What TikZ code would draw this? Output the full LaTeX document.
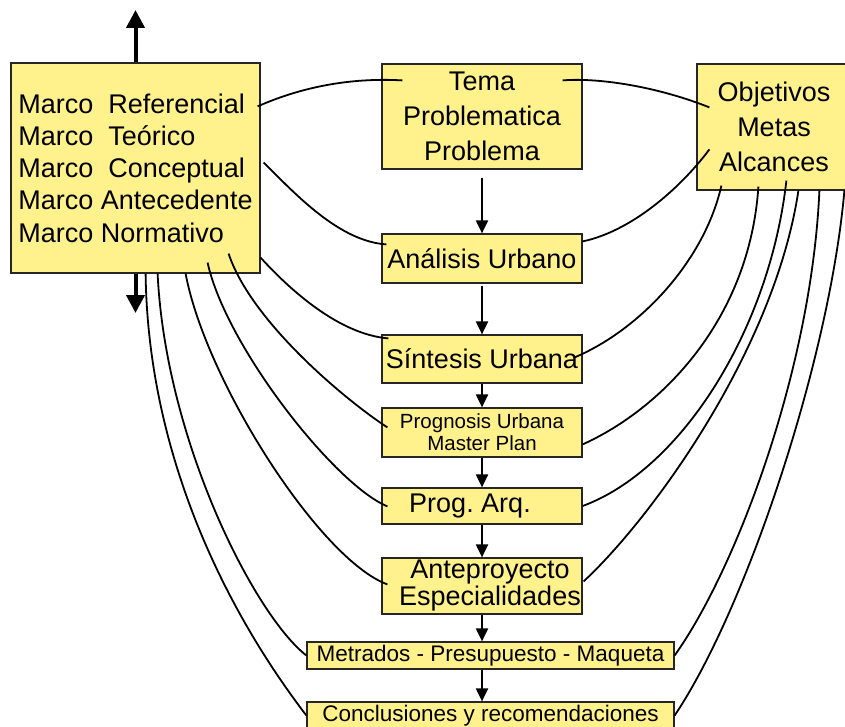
\documentclass[tikz,border=0pt]{standalone}
\usepackage{fontspec}
\setmainfont{Liberation Sans}
\usepackage{tikz}
\usetikzlibrary{arrows.meta, calc}
\definecolor{amarillo}{RGB}{255,242,140}

\begin{document}
\begin{tikzpicture}[x=1pt, y=-1pt,
    caja/.style={draw=black!85, line width=1.2pt, fill=amarillo, inner sep=0pt},
    grande/.style={font={\fontsize{27}{32.3}\selectfont}},
    flecha/.style={line width=2pt, -{Triangle[width=12pt,length=13pt]}},
    flechagrande/.style={line width=4pt, -{Triangle[width=18pt,length=18pt]}},
    enlace/.style={line width=1.8pt}]
        \useasboundingbox (0,0) rectangle (845,727);
        \clip (0,0) rectangle (845,727);
        % Boxes
        \node[caja, grande, minimum width=249pt, minimum height=210pt, align=left] (marco) at (135.5,168)
            {Marco~~Referencial\\Marco~~Teórico\\Marco~~Conceptual\\Marco Antecedente\\Marco Normativo};
        \node[caja, minimum width=200pt, minimum height=105pt, align=center, font={\fontsize{27}{35}\selectfont}] (tema) at (482,116.5)
            {Tema\\Problematica\\Problema};
        \node[caja, minimum width=150pt, minimum height=126pt, align=center, font={\fontsize{27}{35}\selectfont}] (objetivos) at (772,127)
            {\hspace*{4pt}Objetivos\\\hspace*{4pt}Metas\\\hspace*{4pt}Alcances};
        \node[caja, grande, minimum width=200pt, minimum height=49pt] (analisis) at (482,258.5) {Análisis Urbano};
        \node[caja, grande, minimum width=200pt, minimum height=48pt] (sintesis) at (482,359) {Síntesis Urbana};
        \node[caja, minimum width=200pt, minimum height=49pt, align=center, font={\fontsize{20.5}{22}\selectfont}] (prognosis) at (482,432.5)
            {Prognosis Urbana\\Master Plan};
        \node[caja, grande, minimum width=200pt, minimum height=36pt] (progarq) at (482,506) {Prog.\ Arq.\hspace*{24pt}};
        \node[caja, minimum width=200pt, minimum height=56pt, align=center, font={\fontsize{27}{27}\selectfont}] (antep) at (482,586)
            {\hspace*{16pt}Anteproyecto\\\hspace*{16pt}Especialidades};
        \node[caja, minimum width=367pt, minimum height=27pt, font={\fontsize{22.5}{27}\selectfont}] (metrados) at (490.5,655.5)
            {Metrados - Presupuesto - Maqueta};
        \node[caja, minimum width=367pt, minimum height=27pt, font={\fontsize{22.5}{27}\selectfont}] (conclu) at (490.5,715.5)
            {Conclusiones y recomendaciones};

        % Arrows out of the left box
        \coordinate (arriba) at (135.5,10);
        \coordinate (abajo) at (135.5,313);
        \draw[flechagrande] (marco.north) -- (arriba);
        \draw[flechagrande] (marco.south) -- (abajo);

        % Main sequence
        \draw[flecha, shorten <=8pt] (tema) -- (analisis);
        \draw[flecha, shorten <=2pt] (analisis) -- (sintesis);
        \draw[flecha] (sintesis) -- (prognosis);
        \draw[flecha] (prognosis) -- (progarq);
        \draw[flecha] (progarq) -- (antep);
        \draw[flecha] (antep.south) -- (antep.south |- metrados.north);
        \draw[flecha] (metrados.south -| antep) -- (conclu.north -| antep);

        % Links from the left box
        \draw[enlace] ($(marco.north east)+(-3,44)$) .. controls +(43,-19) and +(-53,-3) .. ($(tema.north west)+(21,17)$);
        \draw[enlace] ($(marco.north east)+(3,100)$) .. controls +(32,32) and +(-47,-3) .. ($(analisis.north west)+(5,11)$);
        \draw[enlace] ($(marco.south east)+(0,-16)$) .. controls +(30,33) and +(-49,-4) .. ($(sintesis.north west)+(7,4)$);
        \draw[enlace] ($(marco.south east)+(-32,-20)$) .. controls +(22,67) and +(-43,-28) .. ($(prognosis.north west)+(6,20)$);
        \draw[enlace] ($(marco.south east)+(-53,-11)$) .. controls +(18,83) and +(-53,-22) .. ($(progarq.north west)+(6,19)$);
        \draw[enlace] ($(marco.south east)+(-75,0)$) .. controls +(20,107) and +(-68,-25) .. ($(antep.north west)+(6,27)$);
        \draw[enlace] ($(marco.south east)+(-103,0)$) .. controls +(8,167) and +(-52,-40.5) .. (metrados.west);
        \draw[enlace] ($(marco.south east)+(-115,0)$) .. controls +(3,227) and +(-37,-48.5) .. (conclu.west);

        % Links from the right box
        \draw[enlace] ($(tema.north east)+(-20,17)$) .. controls +(38,-3) and +(-50,-20) .. ($(objetivos.north west)+(13,44)$);
        \draw[enlace] ($(objetivos.north west)+(13,86)$) .. controls +(-30,40) and +(48,-10) .. ($(analisis.north east)+(0,8)$);
        \draw[enlace] ($(objetivos.south west)+(25,-5)$) .. controls +(-17,75) and +(66,-28) .. ($(sintesis.north east)+(-8,23)$);
        \draw[enlace] ($(objetivos.south west)+(62,-4)$) .. controls +(-9,134) and +(78,-35) .. ($(prognosis.north east)+(0,37)$);
        \draw[enlace] ($(objetivos.south west)+(90,-10)$) .. controls +(-17,150) and +(98,-36) .. (progarq.east);
        \draw[enlace] ($(objetivos.south west)+(102,0)$) .. controls +(-24,160) and +(67,-62) .. ($(antep.north east)+(1,24)$);
        \draw[enlace] ($(objetivos.south west)+(123,0)$) .. controls +(-8,180) and +(61,-85.5) .. (metrados.east);
        \draw[enlace] ($(objetivos.south west)+(148,0)$) .. controls +(-15,170) and +(71,-105.5) .. (conclu.east);

\end{tikzpicture}
\end{document}
